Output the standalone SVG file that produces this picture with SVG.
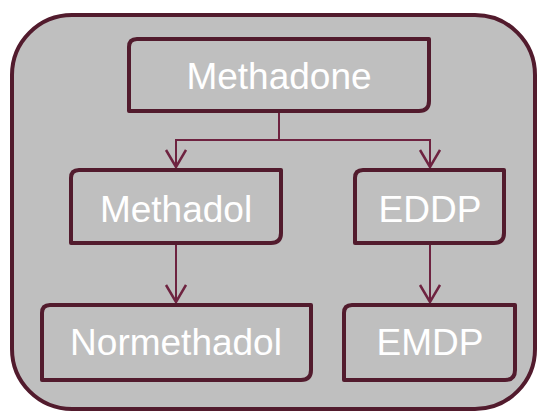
<svg xmlns="http://www.w3.org/2000/svg" width="538" height="413" viewBox="0 0 538 413">
<style>
.box{fill:#bfbfbf;stroke:#521b2d;stroke-width:4;stroke-linejoin:round}
.lbl{font-family:"Liberation Sans",Arial,sans-serif;font-size:37px;fill:#ffffff;text-anchor:middle}
.con{fill:none;stroke:#6e2340;stroke-width:2}
</style>
<defs>
<marker id="arr" markerUnits="userSpaceOnUse" markerWidth="20" markerHeight="24" refX="18" refY="11" orient="auto" viewBox="0 0 20 24">
<path d="M1,1 L18,11 L1,21" fill="none" stroke="#6e2340" stroke-width="2.5"/>
</marker>
</defs>
<g id="container">
<rect x="12" y="15" width="523" height="394" rx="60" ry="60" fill="#bfbfbf" stroke="#521b2d" stroke-width="4"/>
</g>
<g id="connectors">
<path class="con" d="M279,113 V140 H176 V167" marker-end="url(#arr)"/>
<path class="con" d="M279,113 V140 H430 V167" marker-end="url(#arr)"/>
<path class="con" d="M176,245 V302" marker-end="url(#arr)"/>
<path class="con" d="M430,245 V302" marker-end="url(#arr)"/>
</g>
<g id="methadone">
<path class="box" d="M137,39 H429 V101 Q429,111 419,111 H129 V47 Q129,39 137,39 Z"/>
<text class="lbl" x="279" y="89">Methadone</text>
</g>
<g id="methadol">
<path class="box" d="M79,170 H281 V233 Q281,243 271,243 H71 V178 Q71,170 79,170 Z"/>
<text class="lbl" x="176" y="222">Methadol</text>
</g>
<g id="eddp">
<path class="box" d="M363,170 H504 V233 Q504,243 494,243 H355 V178 Q355,170 363,170 Z"/>
<text class="lbl" x="430" y="222">EDDP</text>
</g>
<g id="normethadol">
<path class="box" d="M50,305 H311 V370 Q311,380 301,380 H42 V313 Q42,305 50,305 Z"/>
<text class="lbl" x="176" y="355">Normethadol</text>
</g>
<g id="emdp">
<path class="box" d="M352,305 H515 V370 Q515,380 505,380 H344 V313 Q344,305 352,305 Z"/>
<text class="lbl" x="430" y="355">EMDP</text>
</g>
</svg>
